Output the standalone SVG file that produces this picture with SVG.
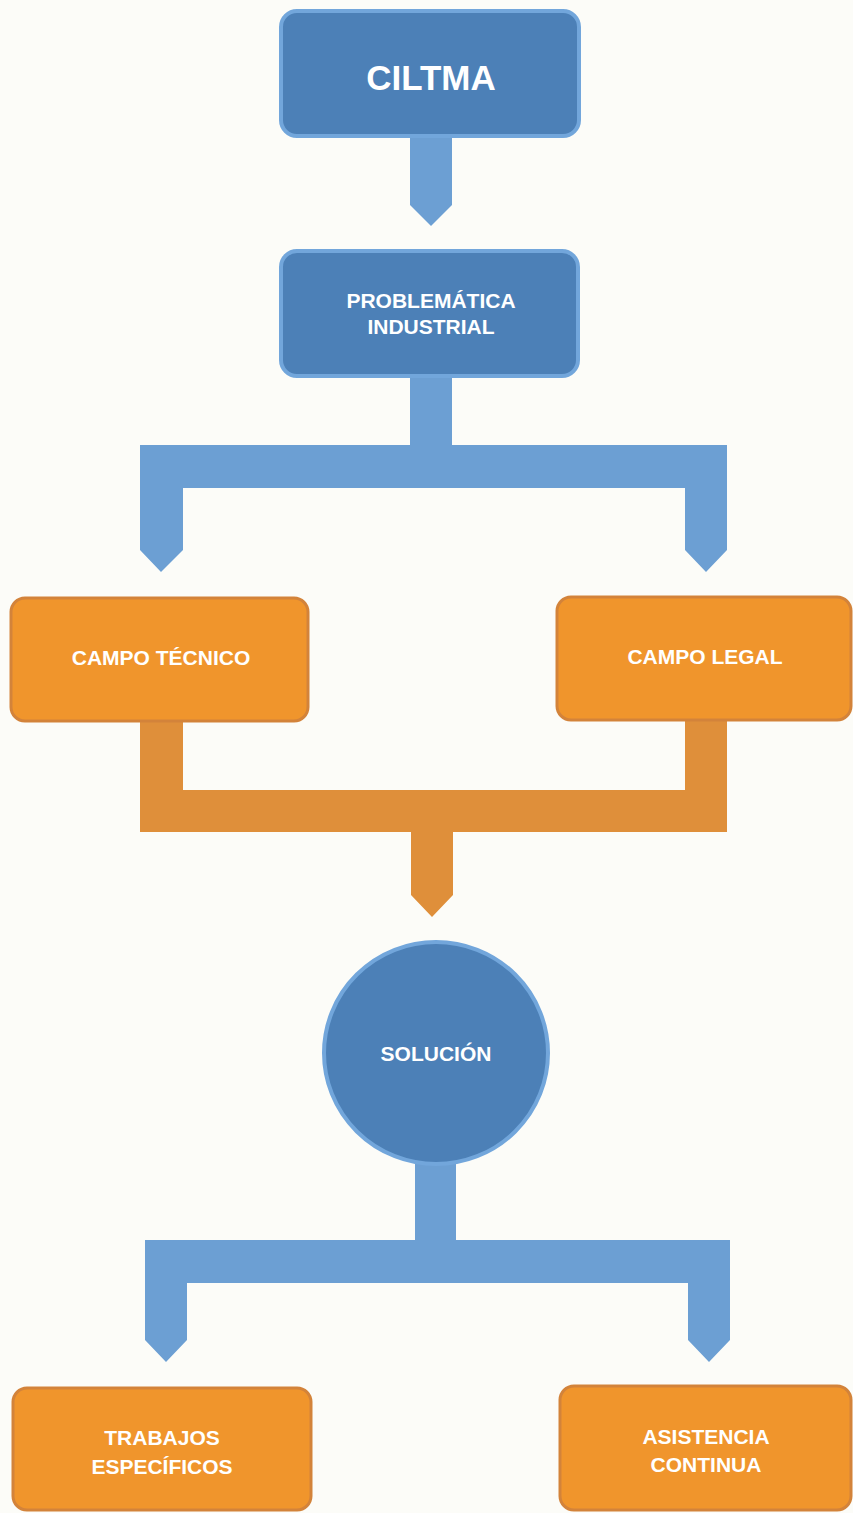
<svg xmlns="http://www.w3.org/2000/svg" width="853" height="1513" viewBox="0 0 853 1513">
<style>
.bg{fill:#fcfcf8}
.bn{fill:#4c80b7;stroke:#72a6db;stroke-width:4}
.on{fill:#f0952c;stroke:#d3833a;stroke-width:3}
.bc{fill:#6c9fd3}
.oc{fill:#df8f3a}
.t{font-family:"Liberation Sans",Arial,sans-serif;font-weight:bold;fill:#ffffff;text-anchor:middle;font-size:21px}
</style>
<rect class="bg" x="0" y="0" width="853" height="1513"/>
<g id="connectors">
<path class="bc" d="M410,135 H452 V205 L431,226 L410,205 Z"/>
<path class="bc" d="M410,375 H452 V445 H727 V550 L706,572 L685,550 V488 H183 V550 L161,572 L140,550 V445 H410 Z"/>
<path class="oc" d="M140,720 H183 V790 H685 V720 H727 V832 H453 V895 L432,917 L411,895 V832 H140 Z"/>
<path class="bc" d="M415,1155 H456 V1240 H730 V1340 L709,1362 L688,1340 V1283 H187 V1340 L166,1362 L145,1340 V1240 H415 Z"/>
</g>
<g id="n_ciltma">
<rect class="bn" x="281" y="11" width="298" height="125" rx="16"/>
<text class="t" x="431" y="90" style="font-size:35px">CILTMA</text>
</g>
<g id="n_problematica">
<rect class="bn" x="281" y="251" width="297" height="125" rx="16"/>
<text class="t" x="431" y="308">PROBLEMÁTICA</text>
<text class="t" x="431" y="334">INDUSTRIAL</text>
</g>
<g id="n_tecnico">
<rect class="on" x="11" y="598" width="297" height="123" rx="14"/>
<text class="t" x="161" y="665">CAMPO TÉCNICO</text>
</g>
<g id="n_legal">
<rect class="on" x="557" y="597" width="294" height="123" rx="14"/>
<text class="t" x="705" y="664">CAMPO LEGAL</text>
</g>
<g id="n_solucion">
<ellipse class="bn" cx="436" cy="1053" rx="112" ry="111"/>
<text class="t" x="436" y="1061">SOLUCIÓN</text>
</g>
<g id="n_trabajos">
<rect class="on" x="13" y="1388" width="298" height="122" rx="14"/>
<text class="t" x="162" y="1445">TRABAJOS</text>
<text class="t" x="162" y="1474">ESPECÍFICOS</text>
</g>
<g id="n_asistencia">
<rect class="on" x="560" y="1386" width="291" height="124" rx="14"/>
<text class="t" x="706" y="1444">ASISTENCIA</text>
<text class="t" x="706" y="1472">CONTINUA</text>
</g>
</svg>
